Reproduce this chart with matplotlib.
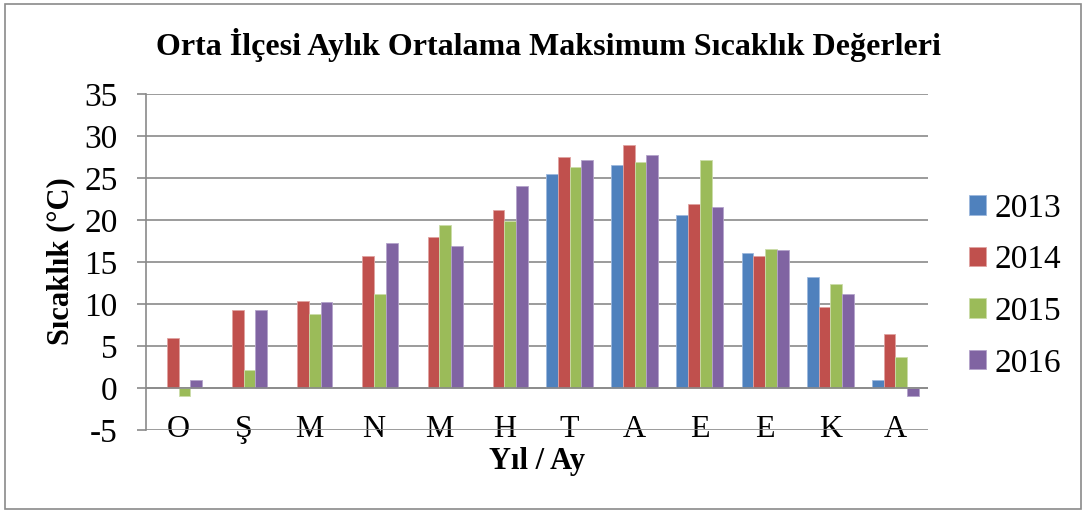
import matplotlib.pyplot as plt
import matplotlib.patches as patches
import numpy as np

plt.rcParams['font.family'] = ['Liberation Serif', 'DejaVu Serif']
plt.rcParams['axes.unicode_minus'] = False

# month initials (Ocak ... Aralik)
months = ['O', 'Ş', 'M', 'N', 'M', 'H', 'T', 'A', 'E', 'E', 'K', 'A']
years = ['2013', '2014', '2015', '2016']

# values, nan = no bar
t2013 = [np.nan, np.nan, np.nan, np.nan, np.nan, np.nan, 25.5, 26.5, 20.6, 16.1, 13.2, 1.0]
t2014 = [6.0, 9.3, 10.3, 15.7, 18.0, 21.2, 27.5, 28.9, 21.9, 15.7, 9.6, 6.4]
t2015 = [-1.0, 2.1, 8.8, 11.2, 19.4, 19.9, 26.3, 26.9, 27.1, 16.6, 12.4, 3.7]
t2016 = [1.0, 9.3, 10.2, 17.3, 16.9, 24.0, 27.2, 27.7, 21.6, 16.4, 11.2, -1.0]

series = [t2013, t2014, t2015, t2016]
colors = ['#4F81BD', '#C0504D', '#9BBB59', '#8064A2']
edges = ['#9DB9DD', '#E0A3A1', '#CBDCA9', '#B4A3CB']

fig = plt.figure(figsize=(10.86, 5.13), dpi=100)
ax = fig.add_axes([146/1086, 83/513, 782/1086, 336/513])

x = np.arange(len(months))
w = 0.18
for i, vals in enumerate(series):
    ax.bar(x + (i - 1.5) * w, vals, width=w, color=colors[i], edgecolor=edges[i],
           linewidth=0.6, label=years[i], zorder=3)

grid_c = '#8A8A8A'
ax.set_xlim(-0.5, 11.5)
ax.set_ylim(-5, 35)
ax.set_yticks(range(-5, 36, 5))
ax.yaxis.grid(True, color=grid_c, linewidth=1.2, zorder=0)
ax.axhline(0, color=grid_c, linewidth=1.2, zorder=4)
for s in ['top', 'right', 'bottom']:
    ax.spines[s].set_visible(False)
ax.spines['left'].set_color(grid_c)
ax.spines['left'].set_linewidth(1.2)
ax.tick_params(axis='y', colors=grid_c, length=6.5, width=1.2, pad=14, labelsize=24,
               labelcolor='black')
ax.set_xticks(x)
ax.set_xticklabels(months)
ax.tick_params(axis='x', length=0, pad=-10.5, labelsize=23)

ax.legend(loc='center left', bbox_to_anchor=(969/1086, 1 - 286/513),
          bbox_transform=fig.transFigure, frameon=False, fontsize=24,
          handlelength=0.52, handleheight=0.52, handletextpad=0.25,
          labelspacing=0.63, borderpad=0, borderaxespad=0)

fig.text(548/1086, 1 - 45/513, 'Orta İlçesi Aylık Ortalama Maksimum Sıcaklık Değerleri',
         ha='center', va='center', fontsize=23, fontweight='bold')
fig.text(61/1086, 1 - 261/513, 'Sıcaklık (°C)', ha='center', va='center',
         rotation=90, fontsize=22, fontweight='bold')
fig.text(537/1086, 1 - 461/513, 'Yıl / Ay', ha='center', va='center',
         fontsize=22, fontweight='bold')

fig.patches.append(patches.Rectangle((5/1086, 4/513), 1076/1086, 505/513,
                                     transform=fig.transFigure, fill=False,
                                     edgecolor=grid_c, linewidth=1.2))

fig.savefig('out.png', dpi=100)
